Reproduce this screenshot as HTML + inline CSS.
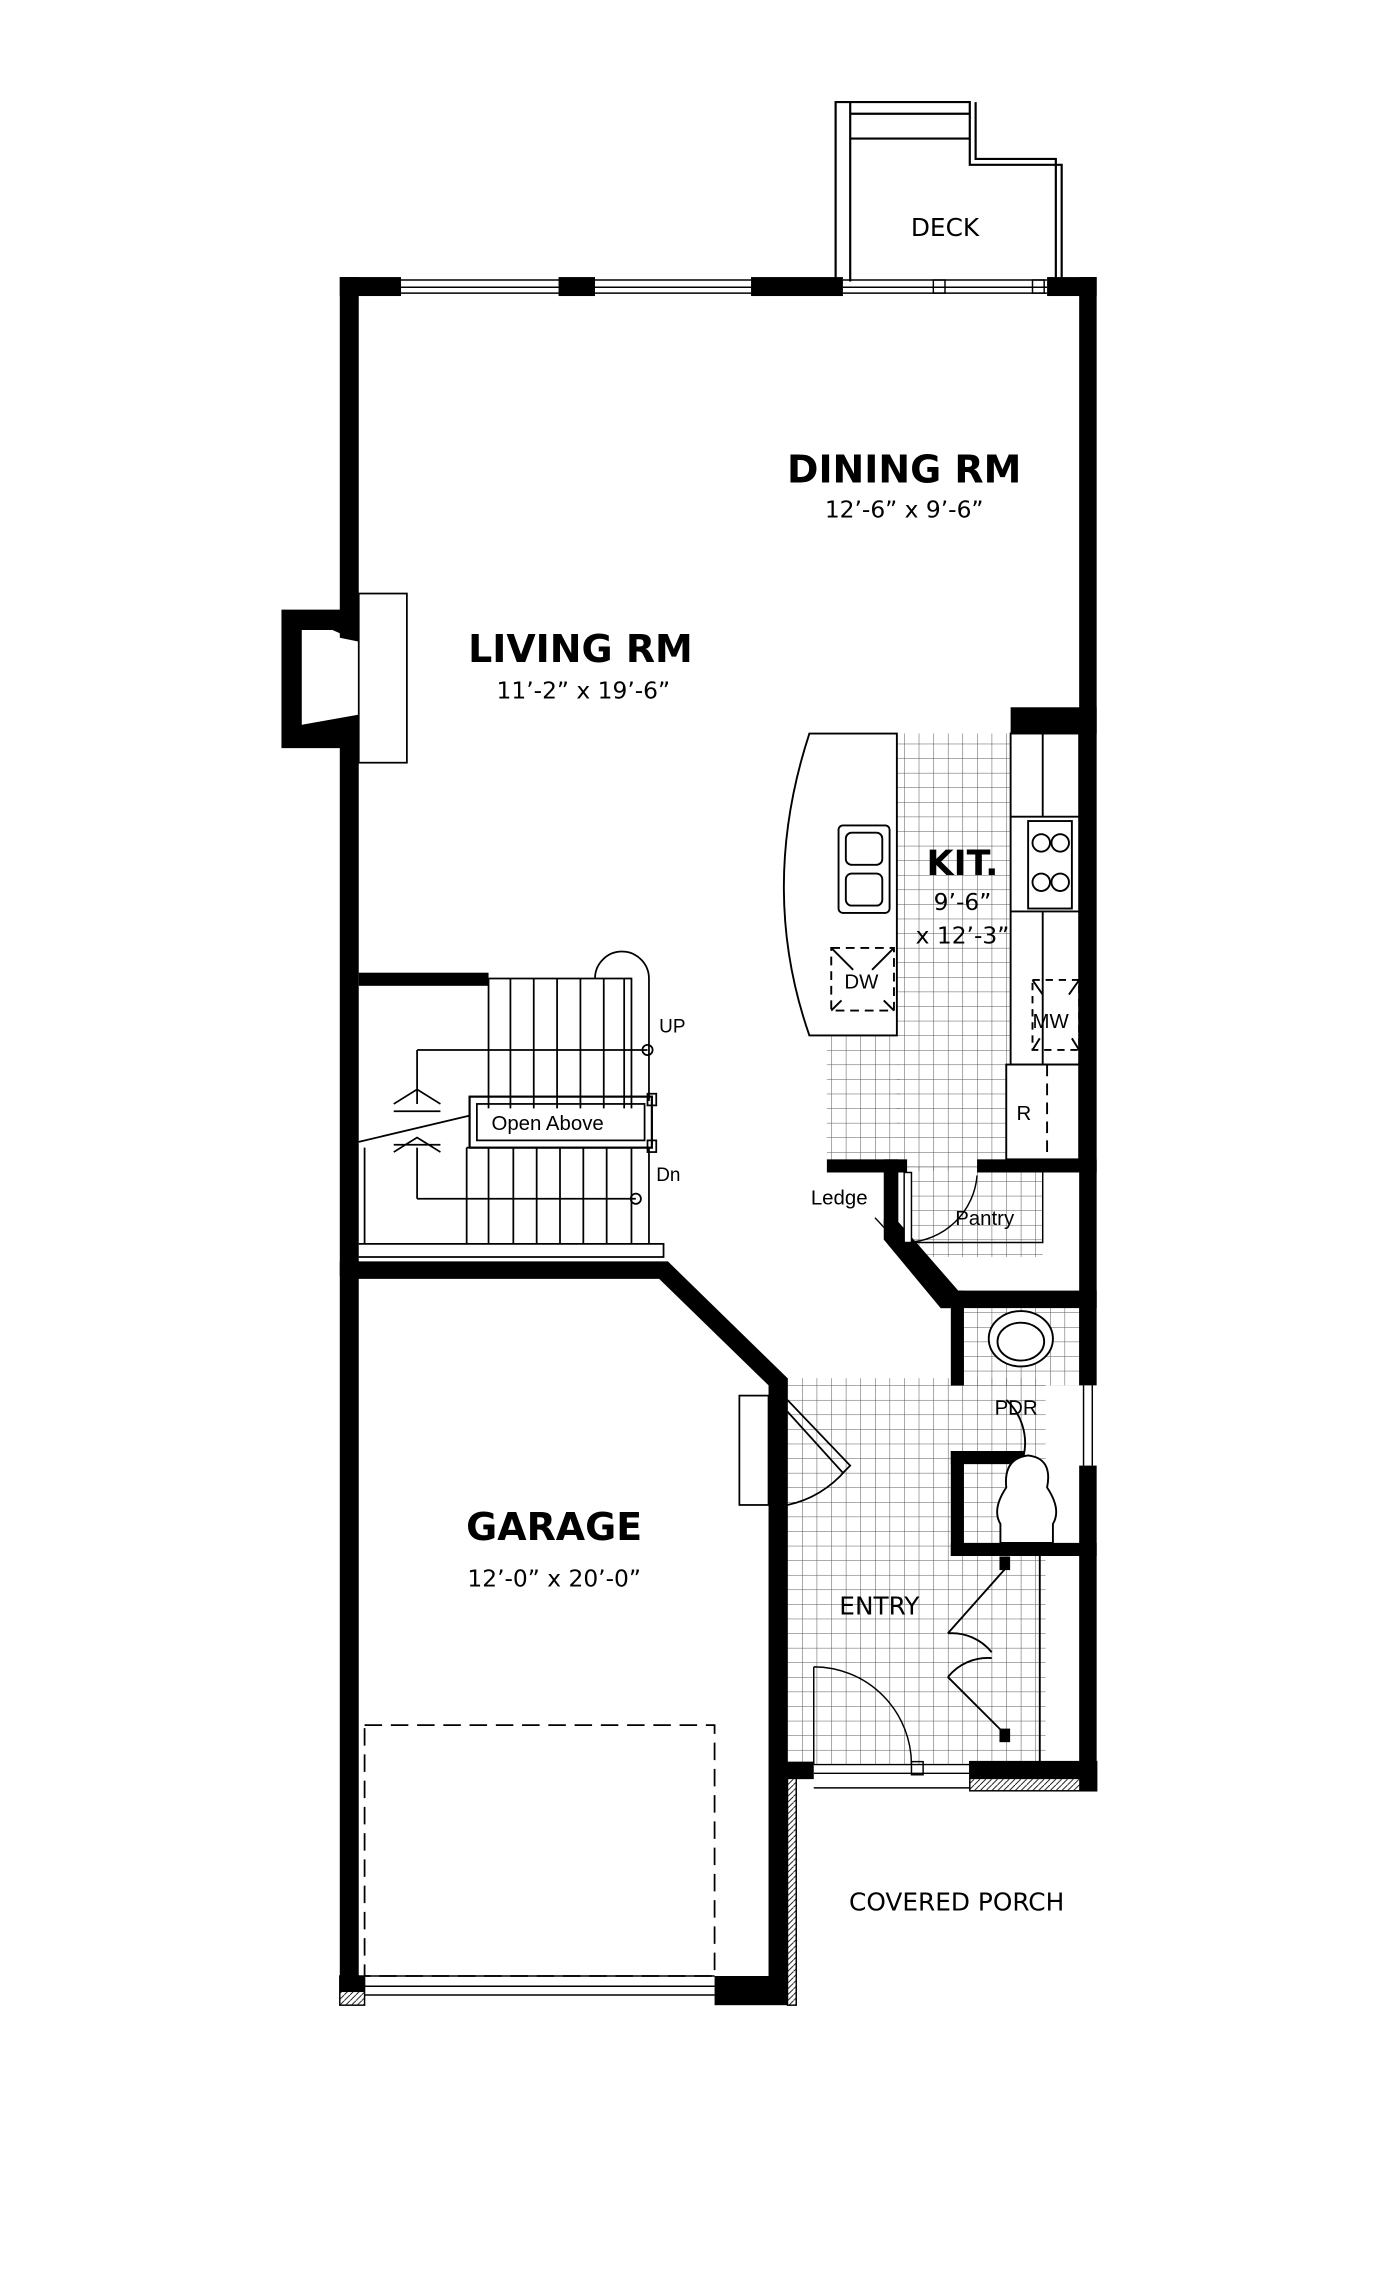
<!DOCTYPE html>
<html><head><meta charset="utf-8"><style>html,body{margin:0;padding:0;background:#fff}svg{display:block}</style></head>
<body>
<svg width="1400" height="2277" viewBox="0 0 960 1561.4" preserveAspectRatio="none" xmlns="http://www.w3.org/2000/svg" font-family="'Liberation Sans', sans-serif">
<defs>
<pattern id="tile" width="10" height="10" patternUnits="userSpaceOnUse"><path d="M0 0H10M0 0V10" stroke="#555" stroke-width="0.7" fill="none"/></pattern>
<pattern id="hatch" width="4" height="4" patternUnits="userSpaceOnUse"><path d="M0 4L4 0" stroke="#000" stroke-width="0.6"/></pattern>
</defs>
<rect width="960" height="1561.4" fill="#fff"/>
<!-- tiles -->
<rect x="615" y="503" width="80" height="300" fill="url(#tile)"/>
<rect x="567" y="710" width="50" height="90" fill="url(#tile)"/>
<rect x="620" y="800" width="95" height="62" fill="url(#tile)"/>
<rect x="540" y="945" width="112" height="265" fill="url(#tile)"/>
<rect x="652" y="895" width="90" height="55" fill="url(#tile)"/>
<rect x="652" y="945" width="65" height="265" fill="url(#tile)"/>
<!-- deck -->
<g fill="none" stroke="#000" stroke-width="1.5">
<path d="M573 193V70H583V193M583 78H665V70H583M583 95H665V78M665 70V113H728V193M669 70V109H724V193"/>
</g>
<!-- top wall -->
<rect x="233" y="190" width="42" height="13"/>
<rect x="383" y="190" width="25" height="13"/>
<rect x="515" y="190" width="63" height="13"/>
<rect x="718" y="190" width="34" height="13"/>
<g stroke="#000" stroke-width="1" fill="none">
<path d="M275 192H383M275 197H383M275 201H383M408 192H515M408 197H515M408 201H515M578 192H718M578 197H718M578 201H718"/>
<rect x="640" y="192" width="8" height="9"/><rect x="708" y="192" width="8" height="9"/>
</g>
<!-- left wall -->
<rect x="233" y="190" width="13" height="685"/>
<!-- fireplace -->
<path d="M193 418H246V513H193Z M207 432V497L228 490H246V440L228 432Z" fill="#000" fill-rule="evenodd"/>
<path d="M207 432L246 440V490L207 497Z" fill="#fff"/>
<rect x="246" y="407" width="33" height="116" fill="#fff" stroke="#000" stroke-width="1.2"/>
<!-- right wall -->
<rect x="740" y="190" width="12" height="760"/>
<rect x="740" y="1005" width="12" height="223"/>
<rect x="693" y="485" width="59" height="18"/>
<path d="M743 950V1005M749 950V1005" stroke="#000"/>
<!-- stair wall -->
<rect x="246" y="667" width="89" height="9"/>
<!-- stairs -->
<g stroke="#000" stroke-width="1.2" fill="none">
<path d="M335 671H433V760M335 671V760"/>
<path d="M350 671V760M366 671V760M382 671V760M398 671V760M414 671V760"/>
<path d="M408 671A18 18 0 0 1 445 671V755"/>
<path d="M428 671V760"/>
<path d="M320 787H445V853M320 787V853M335 787V853M352 787V853M368 787V853M384 787V853M400 787V853M416 787V853M433 787V853"/>
<path d="M246 853H455V862H246"/>
<rect x="322" y="752" width="125" height="35" stroke-width="1.5"/>
<rect x="327" y="757" width="115" height="25"/>
<path d="M286 720H444M286 720V757M286 822H436M286 822V787M270 757L286 747L302 757M270 790L286 780L302 790M270 762H302M270 785H302M246 783L322 765M250 787V853"/>
<circle cx="444" cy="720" r="3.5"/><circle cx="436" cy="822" r="3.5"/>
<rect x="444" y="750" width="6" height="8"/><rect x="444" y="782" width="6" height="8"/>
</g>
<text x="337" y="775" font-size="14">Open Above</text>
<text x="452" y="708" font-size="13">UP</text>
<text x="450" y="810" font-size="13">Dn</text>
<!-- garage walls -->
<path d="M233 865H458L540 945V1365H527V950L452 877H246V1365H233Z"/>
<rect x="233" y="1355" width="17" height="20" fill="url(#hatch)" stroke="#000"/>
<rect x="490" y="1355" width="50" height="20"/>
<rect x="233" y="1355" width="17" height="11"/>
<path d="M250 1355H490M250 1362H490M250 1368H490" stroke="#000" fill="none"/>
<rect x="250" y="1183" width="240" height="172" fill="none" stroke="#000" stroke-dasharray="12,6" stroke-width="1.2"/>
<!-- garage door to entry -->
<g stroke="#000" stroke-width="1.2" fill="none">
<rect x="507" y="957" width="20" height="75" fill="#fff"/>
<path d="M540 960L583 1005L578 1010L540 968M540 1032A72 72 0 0 0 580 1008"/>
</g>
<!-- porch -->
<rect x="540" y="1208" width="18" height="12"/>
<rect x="540" y="1218" width="6" height="157" fill="url(#hatch)" stroke="#000"/>
<rect x="665" y="1208" width="87" height="20" fill="url(#hatch)" stroke="#000"/>
<rect x="665" y="1208" width="87" height="12"/>
<g stroke="#000" fill="none">
<path d="M558 1210H665M558 1216H665M558 1226H665"/>
<path d="M558 1143V1210M558 1143A67 67 0 0 1 625 1210"/>
<rect x="625" y="1208" width="8" height="9"/>
</g>
<!-- kitchen island -->
<g stroke="#000" stroke-width="1.3" fill="#fff">
<path d="M555 503H615V710H555Q520 610 555 503Z"/>
<rect x="575" y="566" width="35" height="60" rx="3"/>
<rect x="580" y="571" width="25" height="22" rx="4"/><rect x="580" y="599" width="25" height="22" rx="4"/>
<rect x="570" y="650" width="43" height="43" stroke-dasharray="6,4" fill="none"/>
<path d="M570 650L585 665M613 650L598 665M570 693L577 686M613 693L606 686" fill="none"/>
</g>
<text x="579" y="678" font-size="14">DW</text>
<!-- counters -->
<g stroke="#000" stroke-width="1.3" fill="#fff">
<rect x="693" y="503" width="47" height="227"/>
<path d="M693 560H740M693 625H740M715 503V560M715 625V730" fill="none"/>
<rect x="705" y="563" width="30" height="60"/>
<circle cx="714" cy="578" r="6"/><circle cx="727" cy="578" r="6"/><circle cx="714" cy="605" r="6"/><circle cx="727" cy="605" r="6"/>
<rect x="690" y="730" width="50" height="65"/>
<rect x="708" y="672" width="32" height="48" stroke-dasharray="5,4" fill="none"/>
<path d="M708 672L715 682M740 672L733 682M708 720L713 712M740 720L735 712" fill="none"/>
<path d="M718 730V800" stroke-dasharray="8,5" fill="none"/>
</g>
<text x="708" y="705" font-size="14">MW</text>
<text x="697" y="768" font-size="14">R</text>
<!-- pantry walls -->
<rect x="567" y="795" width="55" height="9"/>
<rect x="606" y="795" width="10" height="45"/>
<path d="M606 838L616 838L657 885L645 890Z"/>
<path d="M606 838H616L657 885H652Z"/>
<path d="M606 836L652 885V897H645L606 850Z"/>
<rect x="670" y="795" width="82" height="9"/>
<path d="M622 804V852H715V804" stroke="#000" fill="none"/>
<path d="M622 852A50 50 0 0 0 670 806" stroke="#000" fill="none"/>
<rect x="620" y="804" width="5" height="48" fill="#fff" stroke="#000"/>
<path d="M600 835L612 848" stroke="#000"/>
<text x="556" y="826" font-size="14">Ledge</text>
<text x="655" y="840" font-size="14">Pantry</text>
<!-- PDR -->
<rect x="645" y="885" width="107" height="12"/>
<rect x="652" y="885" width="9" height="65"/>
<rect x="652" y="995" width="9" height="72"/>
<rect x="652" y="995" width="50" height="9"/>
<rect x="652" y="1058" width="100" height="9"/>
<g stroke="#000" stroke-width="1.3" fill="#fff">
<ellipse cx="700" cy="918" rx="22" ry="19"/><ellipse cx="700" cy="920" rx="16" ry="13"/>
<path d="M686 1058V1045Q680 1035 690 1020Q688 1000 705 998Q722 1000 718 1020Q728 1035 722 1045V1058Z"/>
<path d="M702 998A40 40 0 0 0 690 960" fill="none"/>
</g>
<text x="682" y="970" font-size="14">PDR</text>
<!-- closet -->
<g stroke="#000" stroke-width="1.3" fill="none">
<path d="M713 1067V1208"/>
<path d="M690 1075L650 1120M690 1190L650 1150M650 1120A35 35 0 0 1 680 1133M650 1150A35 35 0 0 1 680 1137"/>
<rect x="686" y="1068" width="6" height="8" fill="#000"/><rect x="686" y="1186" width="6" height="8" fill="#000"/>
</g>
<!-- labels -->
<g font-family="'DejaVu Sans', 'Liberation Sans', sans-serif" fill="#000" text-anchor="middle">
<text x="648" y="162" font-size="17">DECK</text>
<text x="620" y="331" font-size="26" font-weight="bold">DINING RM</text>
<text x="620" y="355" font-size="16">12’-6” x 9’-6”</text>
<text x="398" y="454" font-size="26" font-weight="bold">LIVING RM</text>
<text x="400" y="479" font-size="16">11’-2” x 19’-6”</text>
<text x="660" y="600" font-size="24" font-weight="bold">KIT.</text>
<text x="660" y="624" font-size="16">9’-6”</text>
<text x="660" y="647" font-size="16">x 12’-3”</text>
<text x="380" y="1056" font-size="26" font-weight="bold">GARAGE</text>
<text x="380" y="1088" font-size="16">12’-0” x 20’-0”</text>
<text x="603" y="1107" font-size="17">ENTRY</text>
<text x="656" y="1310" font-size="17">COVERED PORCH</text>
</g>
</svg>
</body></html>
